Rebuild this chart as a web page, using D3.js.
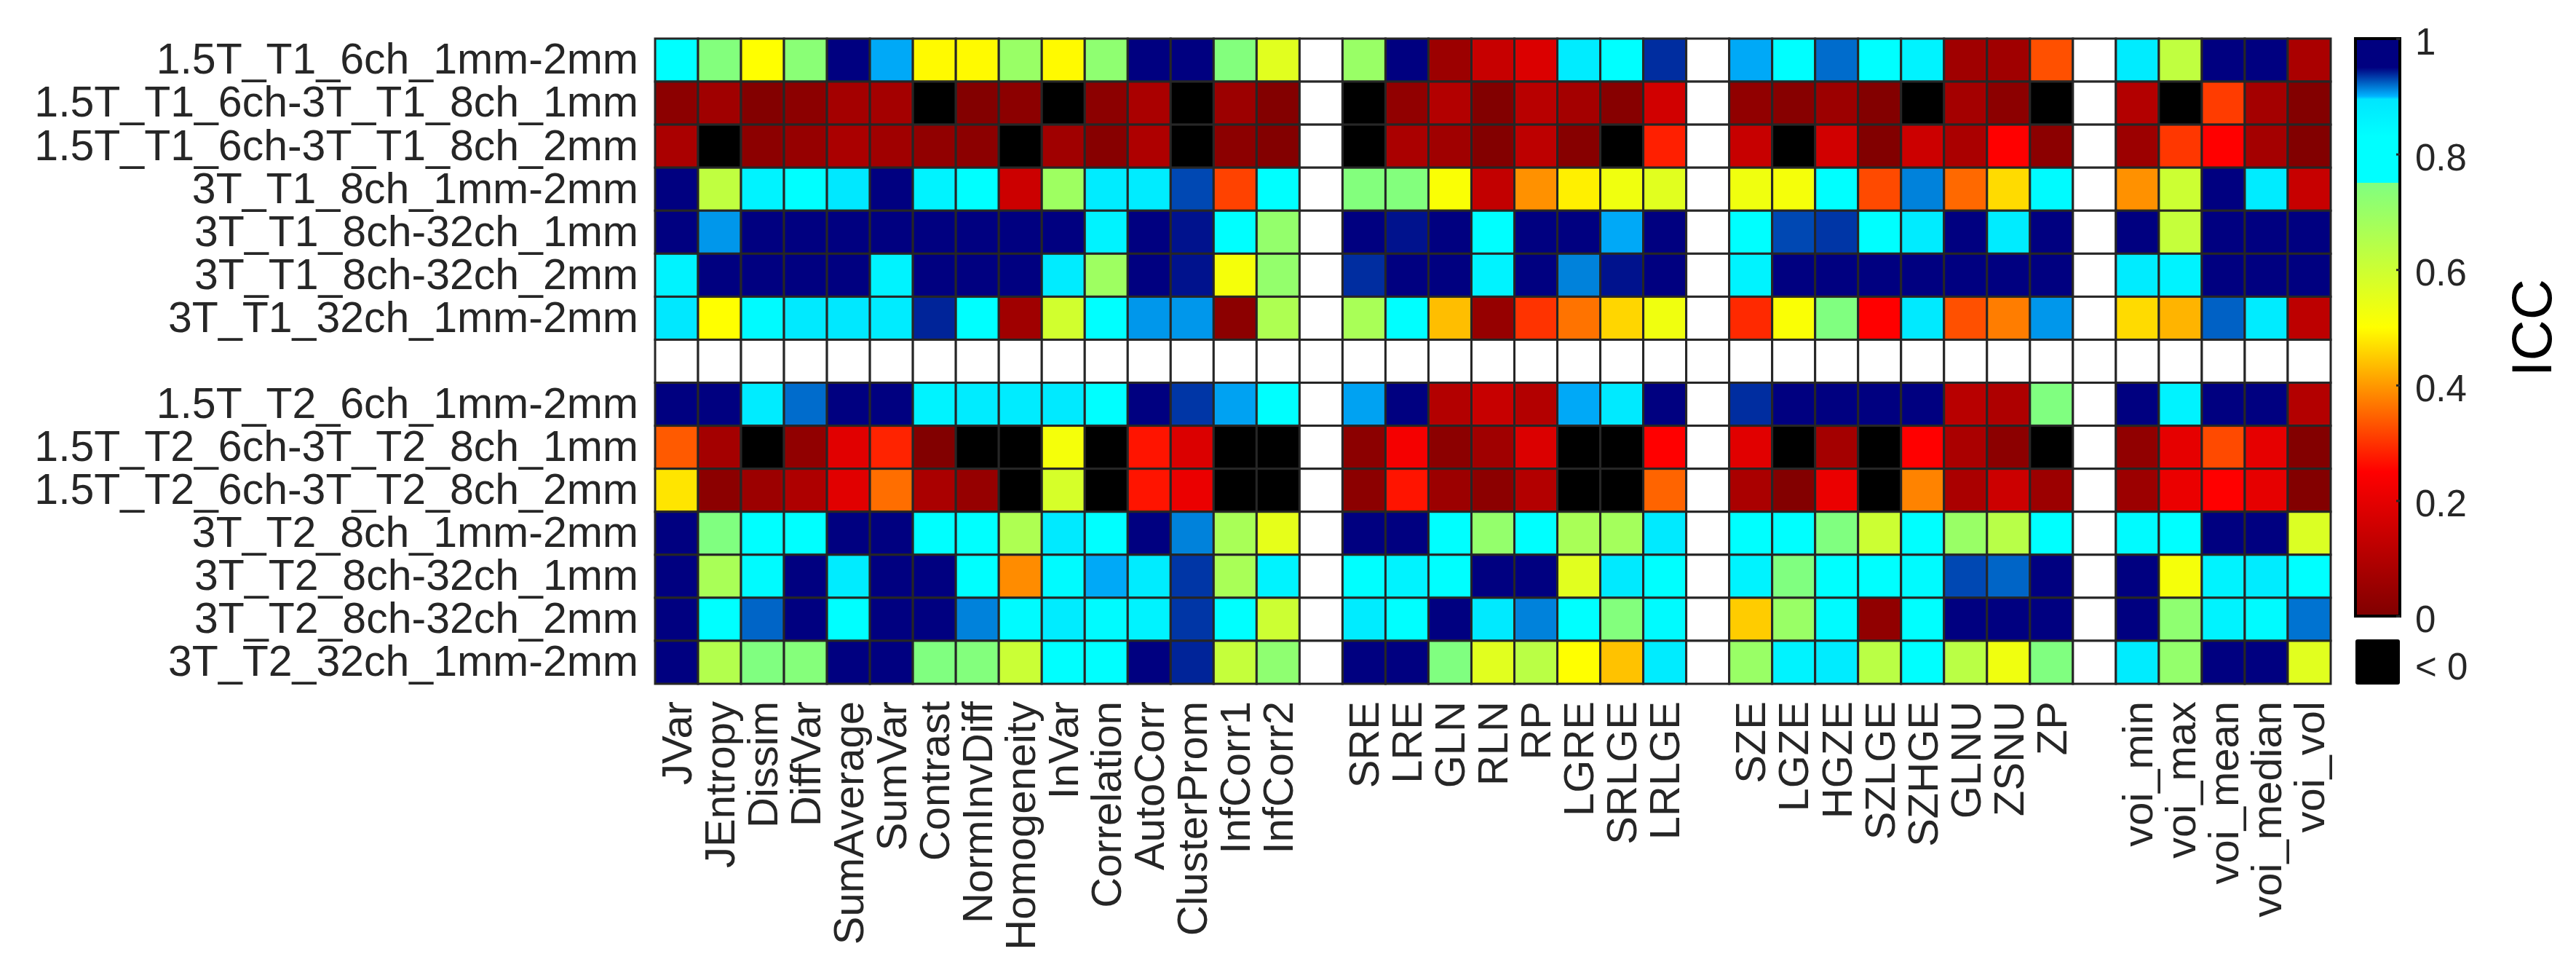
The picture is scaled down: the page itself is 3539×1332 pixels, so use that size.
<!DOCTYPE html>
<html>
<head>
<meta charset="utf-8">
<script src="https://cdn.jsdelivr.net/npm/d3@7"></script>
<style>
  html, body { margin: 0; padding: 0; background: #fff; }
  svg { display: block; font-family: "Liberation Sans", Arial, sans-serif; }
</style>
</head>
<body>
<div id="chart"></div>
<script>
// Labels, empty strings are the spacer rows / columns
const rowLabels = [
  '1.5T_T1_6ch_1mm-2mm', '1.5T_T1_6ch-3T_T1_8ch_1mm', '1.5T_T1_6ch-3T_T1_8ch_2mm',
  '3T_T1_8ch_1mm-2mm', '3T_T1_8ch-32ch_1mm', '3T_T1_8ch-32ch_2mm', '3T_T1_32ch_1mm-2mm',
  '',
  '1.5T_T2_6ch_1mm-2mm', '1.5T_T2_6ch-3T_T2_8ch_1mm', '1.5T_T2_6ch-3T_T2_8ch_2mm',
  '3T_T2_8ch_1mm-2mm', '3T_T2_8ch-32ch_1mm', '3T_T2_8ch-32ch_2mm', '3T_T2_32ch_1mm-2mm'
];
const featureLabels = [
  'JVar', 'JEntropy', 'Dissim', 'DiffVar', 'SumAverage', 'SumVar', 'Contrast', 'NormInvDiff',
  'Homogeneity', 'InVar', 'Correlation', 'AutoCorr', 'ClusterProm', 'InfCorr1', 'InfCorr2', '',
  'SRE', 'LRE', 'GLN', 'RLN', 'RP', 'LGRE', 'SRLGE', 'LRLGE', '',
  'SZE', 'LGZE', 'HGZE', 'SZLGE', 'SZHGE', 'GLNU', 'ZSNU', 'ZP', '',
  'voi_min', 'voi_max', 'voi_mean', 'voi_median', 'voi_vol'
];

// ICC values. null = blank cell, negative = "< 0"
const _ = null;
const neg = -0.1;
const t1Values = [
  [.82,.745,.50,.73,.97,.903,.495,.495,.70,.495,.72,.97,.95,.745,.56,_, .70,.97,.055,.14,.18,.88,.80,.9375,_, .903,.82,.92,.82,.86,.063,.063,.328,_, .88,.625,.97,.96,.083],
  [.024,.063,.005,.024,.07,.07,neg,.005,.024,neg,.024,.083,neg,.055,.005,_, neg,.033,.10,.003,.11,.07,.014,.16,_, .033,.014,.055,.006,neg,.07,.024,neg,_, .10,neg,.309,.07,.005],
  [.083,neg,.024,.043,.083,.063,.033,.024,neg,.063,.014,.09,neg,.024,.006,_, neg,.083,.063,.005,.12,.014,neg,.28,_, .14,neg,.16,.003,.15,.083,.25,.024,_, .055,.304,.25,.07,.003],
  [.97,.625,.86,.80,.89,.97,.86,.82,.15,.69,.88,.88,.93,.315,.82,_, .745,.745,.51,.13,.392,.485,.53,.56,_, .53,.52,.80,.323,.914,.353,.465,.84,_, .392,.60,.97,.88,.14],
  [.97,.908,.97,.965,.965,.97,.96,.96,.96,.97,.86,.97,.945,.82,.71,_, .97,.945,.97,.82,.96,.97,.903,.96,_, .80,.93,.935,.82,.88,.96,.88,.96,_, .97,.615,.97,.96,.96],
  [.86,.97,.97,.97,.97,.86,.97,.97,.96,.88,.69,.98,.945,.52,.71,_, .9375,.97,.97,.86,.97,.914,.945,.97,_, .86,.98,.98,.97,.97,.97,.98,.97,_, .88,.86,.97,.97,.97],
  [.89,.50,.84,.885,.89,.88,.94,.80,.063,.59,.80,.908,.908,.024,.66,_, .67,.80,.436,.043,.30,.363,.46,.53,_, .29,.51,.75,.25,.885,.328,.373,.908,_, .465,.426,.923,.88,.12]
];
const t2Values = [
  [.97,.95,.88,.92,.97,.96,.86,.88,.88,.885,.82,.97,.935,.905,.82,_, .905,.97,.10,.14,.10,.903,.885,.97,_, .9375,.96,.96,.95,.955,.11,.09,.75,_, .97,.86,.97,.97,.10],
  [.338,.07,neg,.033,.19,.284,.003,neg,neg,.52,neg,.27,.18,neg,neg,_, .024,.23,.024,.063,.18,neg,neg,.25,_, .19,neg,.07,neg,.25,.083,.024,neg,_, .033,.20,.323,.20,.006],
  [.475,.024,.055,.09,.19,.358,.083,.043,neg,.58,neg,.27,.21,neg,neg,_, .024,.27,.055,.024,.10,neg,neg,.348,_, .083,.006,.21,neg,.378,.083,.15,.055,_, .055,.21,.25,.20,.005],
  [.97,.75,.82,.80,.97,.97,.82,.80,.66,.885,.78,.97,.914,.67,.55,_, .97,.97,.80,.71,.80,.67,.68,.885,_, .80,.78,.75,.60,.82,.70,.64,.80,_, .84,.80,.97,.97,.57],
  [.97,.67,.84,.97,.88,.97,.96,.82,.387,.84,.903,.88,.935,.67,.86,_, .82,.86,.82,.97,.96,.56,.885,.80,_, .86,.75,.82,.80,.84,.93,.922,.96,_, .97,.52,.86,.88,.80],
  [.97,.82,.922,.97,.82,.97,.96,.914,.84,.88,.84,.86,.935,.80,.60,_, .88,.82,.97,.885,.914,.80,.745,.84,_, .45,.70,.84,.033,.80,.97,.98,.96,_, .97,.72,.86,.84,.918],
  [.97,.65,.75,.74,.97,.97,.75,.745,.605,.80,.80,.97,.94,.615,.72,_, .97,.97,.75,.56,.635,.50,.44,.88,_, .70,.86,.88,.635,.82,.635,.53,.75,_, .88,.71,.97,.97,.56]
];
const spacerRow = featureLabels.map(() => null);
const iccValues = [...t1Values, spacerRow, ...t2Values];

// Colormap: reversed jet with a hard break between green and cyan at 0.75
const colorStops = [0, .25, .5, .75, .7501, .83, .895, .9, .95, 1];
const colorRange = ['#800000', '#ff0000', '#ffff00', '#80ff80', '#00ffff', '#00ffff', '#00e6ff', '#00b4ff', '#000080', '#000080'];
const colorTicks = [0, .2, .4, .6, .8, 1];

const width = 3539;
const height = 1332;
const margin = { top: 53, right: 337, bottom: 393, left: 900 };
const textColor = '#262626';

const color = d3.scaleLinear().domain(colorStops).range(colorRange).clamp(true);
const cellFill = v => v === null ? '#fff' : (v < 0 ? '#000' : color(v));

const svg = d3.select('#chart').append('svg')
  .attr('width', width)
  .attr('height', height);

const g = svg.append('g')
  .attr('transform', `translate(${margin.left},${margin.top})`);

const x = d3.scaleBand()
  .domain(d3.range(featureLabels.length))
  .range([0, width - margin.left - margin.right]);
const y = d3.scaleBand()
  .domain(d3.range(rowLabels.length))
  .range([0, height - margin.top - margin.bottom]);

// Heatmap cells
g.selectAll('g.row')
  .data(iccValues)
  .join('g')
  .attr('class', 'row')
  .attr('transform', (d, i) => `translate(0,${y(i)})`)
  .selectAll('rect')
  .data(d => d)
  .join('rect')
  .attr('x', (d, i) => x(i))
  .attr('width', x.bandwidth())
  .attr('height', y.bandwidth())
  .attr('fill', cellFill)
  .attr('stroke', textColor)
  .attr('stroke-width', 3);

// Row labels
const yAxis = g.append('g')
  .call(d3.axisLeft(y).tickSize(0).tickPadding(23).tickFormat(i => rowLabels[i]));
yAxis.select('.domain').remove();
yAxis.selectAll('text')
  .attr('font-size', 59)
  .attr('font-family', '"Liberation Sans", Arial, sans-serif')
  .attr('fill', textColor);

// Feature labels, rotated
const xAxis = g.append('g')
  .attr('transform', `translate(0,${y.range()[1]})`)
  .call(d3.axisBottom(x).tickSize(0).tickFormat(i => featureLabels[i]));
xAxis.select('.domain').remove();
xAxis.selectAll('text')
  .attr('font-size', 58)
  .attr('font-family', '"Liberation Sans", Arial, sans-serif')
  .attr('fill', textColor)
  .attr('text-anchor', 'end')
  .attr('transform', 'rotate(-90)')
  .attr('x', -24)
  .attr('y', 0)
  .attr('dy', '.35em');

// Colorbar
const bar = { x: 3236, width: 61, top: 53, bottom: 846 };
const barScale = d3.scaleLinear().domain([0, 1]).range([bar.bottom, bar.top]);

const gradient = svg.append('defs').append('linearGradient')
  .attr('id', 'icc-gradient')
  .attr('x1', 0).attr('x2', 0)
  .attr('y1', 1).attr('y2', 0);
gradient.selectAll('stop')
  .data(colorStops)
  .join('stop')
  .attr('offset', d => d)
  .attr('stop-color', d => color(d));

svg.append('rect')
  .attr('x', bar.x)
  .attr('y', bar.top)
  .attr('width', bar.width)
  .attr('height', bar.bottom - bar.top)
  .attr('fill', 'url(#icc-gradient)')
  .attr('stroke', '#000')
  .attr('stroke-width', 4);

const barAxis = svg.append('g')
  .attr('transform', `translate(${bar.x + bar.width},0)`)
  .call(d3.axisRight(barScale).tickValues(colorTicks).tickSize(0).tickPadding(21).tickFormat(d3.format('~g')));
barAxis.select('.domain').remove();
barAxis.selectAll('.tick line')
  .attr('x2', -5)
  .attr('stroke', textColor)
  .attr('stroke-width', 3);
barAxis.selectAll('text')
  .attr('font-size', 51)
  .attr('font-family', '"Liberation Sans", Arial, sans-serif')
  .attr('fill', textColor)
  .attr('dy', '.42em');

// "< 0" swatch
svg.append('rect')
  .attr('x', bar.x)
  .attr('y', 878)
  .attr('width', bar.width)
  .attr('height', 62)
  .attr('rx', 3)
  .attr('fill', '#000');
svg.append('text')
  .attr('x', bar.x + bar.width + 21)
  .attr('y', 933)
  .attr('font-size', 51)
  .attr('fill', textColor)
  .text('< 0');

// Colorbar title
svg.append('text')
  .attr('transform', 'translate(3505,450) rotate(-90)')
  .attr('text-anchor', 'middle')
  .attr('font-size', 78)
  .attr('fill', '#000')
  .text('ICC');
</script>
</body>
</html>
